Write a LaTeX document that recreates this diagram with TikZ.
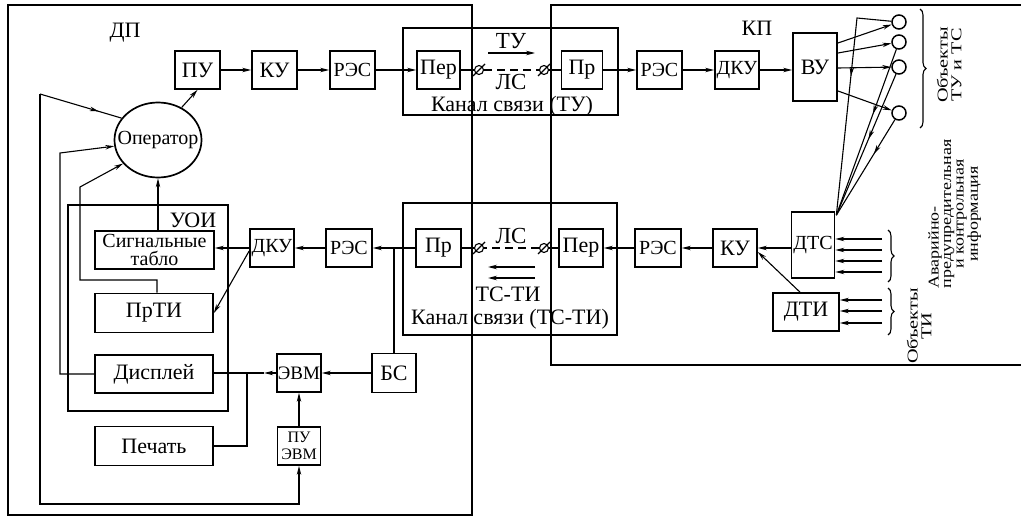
\documentclass[tikz,border=0pt]{standalone}
\usepackage{fontspec}
\setmainfont{Liberation Serif}
\usetikzlibrary{arrows.meta,shapes.geometric,decorations.markings,decorations.pathreplacing,calc}
\begin{document}
\begin{tikzpicture}[x=1pt,y=-1pt,
 every node/.style={font=\fontsize{22}{18}\selectfont},
 small/.style={font=\fontsize{20}{18}\selectfont},
 blk/.style={draw,line width=1.7pt,inner sep=0pt,minimum height=38pt,align=center},
 conn/.style={line width=1.1pt},
 arw/.style={conn,-{Stealth[length=9pt,width=4.5pt]}},
 frm/.style={line width=1.7pt},
 marr/.style={conn,postaction={decorate},decoration={markings,mark=at position #1 with {\arrow{Stealth[length=9pt,width=4.5pt]}}}},
 zero/.style={circle,draw,line width=1.1pt,inner sep=0pt,minimum size=9pt},
 obj/.style={circle,draw,line width=1.5pt,inner sep=0pt,minimum size=14pt},
 brc/.style={line width=1.1pt,decorate,decoration={brace,amplitude=6pt}},
 rot/.style={rotate=90,inner sep=0pt,font=\fontsize{15}{12.5}\selectfont}
]
\useasboundingbox (0,0) rectangle (1021,519);
\fill[white] (0,0) rectangle (1021,519);

% frames
\draw[frm] (8,5) rectangle (472,515);
\draw[frm] (1021,5) -- (551,5) -- (551,365) -- (1021,365);
\draw[frm] (403,28) rectangle (618,115);
\draw[frm] (403,203) rectangle (617,335);
\draw[frm] (68,205) rectangle (228,411);

% labels
\node at (125,33) {ДП};
\node at (757,28) {КП};
\node at (193,220) {УОИ};
\node[font=\fontsize{23}{18}\selectfont] at (511,41) {ТУ};
\node[font=\fontsize{23}{18}\selectfont] at (511,82) {ЛС};
\node at (512,106) {Канал связи (ТУ)};
\node[font=\fontsize{23}{18}\selectfont] at (511,236) {ЛС};
\node[font=\fontsize{22}{18}\selectfont,inner sep=1pt] at (508,294) {ТС-ТИ};
\node[inner sep=1pt] at (510,319) {Канал связи (ТС-ТИ)};

% top row
\node[blk,minimum width=45pt] (pu) at (197.5,70) {ПУ};
\node[blk,minimum width=45pt] (ku1) at (274.5,70) {КУ};
\node[blk,minimum width=45pt,small] (res1) at (352.5,70) {РЭС};
\node[blk,minimum width=43pt] (per1) at (438.5,70) {Пер};
\node[zero] (z1) at (479,70) {};
\node[zero] (z2) at (544,70) {};
\node[blk,minimum width=41pt] (pr1) at (582,70) {Пр};
\node[blk,minimum width=45pt,small] (res2) at (659.5,70) {РЭС};
\node[blk,minimum width=44pt,small] (dku1) at (737,70) {ДКУ};
\node[blk,minimum width=44pt,minimum height=68pt] (vu) at (815,67) {ВУ};
\node[obj] (o1) at (899,22) {};
\node[obj] (o2) at (899,42) {};
\node[obj] (o3) at (899,67) {};
\node[obj] (o4) at (899,113) {};

% bottom row
\node[blk,minimum width=43pt,minimum height=66pt,small] (dts) at (813,245) {ДТС};
\node[blk,minimum width=44pt] (ku2) at (735,248) {КУ};
\node[blk,minimum width=46pt,small] (res3) at (658,248) {РЭС};
\node[blk,minimum width=44pt] (per2) at (581,248) {Пер};
\node[zero] (z4) at (544,248) {};
\node[zero] (z3) at (479,248) {};
\node[blk,minimum width=45pt] (pr2) at (438.5,248) {Пр};
\node[blk,minimum width=46pt,small] (res4) at (349,248) {РЭС};
\node[blk,minimum width=44pt,small] (dku2) at (272,248) {ДКУ};
\node[blk,minimum width=66pt] (dti) at (806,312) {ДТИ};

% left part
\node[draw,ellipse,line width=1.7pt,minimum width=87pt,minimum height=75pt,inner sep=0pt] (op) at (158,140) {};
\node[font=\fontsize{20}{18}\selectfont] at (op) {Оператор};
\node[blk,minimum width=119pt,font=\fontsize{20}{18.5}\selectfont] (tablo) at (154.5,250) {Сигнальные\\табло};
\node[blk,minimum width=118pt,minimum height=39pt] (prti) at (154,313) {ПрТИ};
\node[blk,minimum width=118pt] (disp) at (154,374) {Дисплей};
\node[blk,minimum width=118pt,minimum height=39pt] (pech) at (154,446) {Печать};
\node[blk,minimum width=44pt,font=\fontsize{19}{18}\selectfont] (evm) at (299,373) {ЭВМ};
\node[blk,minimum width=44pt,minimum height=39pt] (bs) at (394,373) {БС};
\node[blk,minimum width=43pt,font=\fontsize{16}{17}\selectfont] (puevm) at (299,446) {ПУ\\ЭВМ};

% zero slashes
\foreach \z in {z1,z2,z3,z4}{
  \draw[conn] ($(\z.center)+(-6,6)$) -- ($(\z.center)+(6,-6)$);
}

% top chain
\draw[arw] (pu) -- (ku1);
\draw[arw] (ku1) -- (res1);
\draw[arw] (res1) -- (per1);
\draw[conn] (per1) -- (z1);
\draw[conn,dash pattern=on 8pt off 5pt] (z1) -- (z2);
\draw[conn] (z2) -- (pr1);
\draw[arw] (pr1) -- (res2);
\draw[arw] (res2) -- (dku1);
\draw[arw] (dku1.east) -- (dku1.east -| vu.west);
\coordinate (ta1) at (488,53);
\coordinate (ta2) at (535,53);
\draw[arw] (ta1) -- (ta2);

% VU outputs
\coordinate (v1) at (838,43);
\coordinate (v2) at (838,53);
\coordinate (v3) at (838,68);
\coordinate (v4) at (838,91);
\draw[arw] (v1) -- (o1);
\draw[arw] (v2) -- (o2);
\draw[arw] (v3) -- (o3);
\draw[arw] (v4) -- (o4);

% fan to DTS
\coordinate (f1) at (857,18);
\coordinate (fc) at ($(dts.north east)+(1,4)$);
\draw[marr=0.4] (o1) -- (f1) -- (fc);
\draw[marr=0.39] (o2) -- (fc);
\draw[marr=0.46] (o3) -- (fc);
\draw[marr=0.36] (o4) -- (fc);

% inputs DTS / DTI
\foreach \y [count=\i] in {239,250,261,272}{
  \coordinate (in\i) at (882,\y);
  \draw[arw] (in\i) -- (in\i -| dts.east);
}
\foreach \y [count=\i] in {300,311,323}{
  \coordinate (ti\i) at (882,\y);
  \draw[arw] (ti\i) -- (ti\i -| dti.east);
}
\draw[brc] (920,9) -- (920,128);
\draw[brc] (888,230) -- (888,282);
\draw[brc] (888,288) -- (888,335);

\node[rot] at (951,65) {\scalebox{1.35}[1]{\begin{tabular}{@{}c@{}}Объекты\\ТУ и ТС\end{tabular}}};
\node[rot] at (921,326) {\scalebox{1.35}[1]{\begin{tabular}{@{}c@{}}Объекты\\ТИ\end{tabular}}};
\node[rot] at (955,214) {\scalebox{1.2}[1]{\begin{tabular}{@{}c@{}}\rlap{Аварийно-}\phantom{предупредительная}\\предупредительная\\и контрольная\\информация\end{tabular}}};

% bottom chain
\draw[arw] (dts.west |- ku2.east) -- (ku2.east);
\draw[arw] ($(dti.north)+(-6,0)$) -- ($(ku2.east)+(0,4)$);
\draw[arw] (ku2) -- (res3);
\draw[arw] (res3) -- (per2);
\draw[conn] (per2) -- (z4);
\draw[conn,dash pattern=on 8pt off 5pt] (z4) -- (z3);
\draw[conn] (z3) -- (pr2);
\draw[arw] (pr2) -- (res4);
\coordinate (jb) at (bs.north |- pr2.west);
\draw[conn] (bs.north) -- (jb);
\draw[arw] (res4) -- (dku2);
\draw[arw] (dku2.west) -- (dku2.west -| tablo.east);
\draw[arw] ($(dku2.west)+(0,3)$) -- (prti.east);
\coordinate (tc1) at (535,267);
\coordinate (tc2) at (488,267);
\coordinate (tc3) at (535,278);
\coordinate (tc4) at (488,278);
\draw[arw] (tc1) -- (tc2);
\draw[arw] (tc3) -- (tc4);

% computer part
\draw[arw] (bs) -- (evm);
\coordinate (ea) at ($(evm.west)+(-12,0)$);
\coordinate (ja) at (247,373);
\draw[arw] (evm.west) -- (ea);
\draw[conn] (ea) -- (ja) -- (ja -| disp.east);
\draw[conn] (pech.east) -- (pech.east -| ja) -- (ja);
\draw[arw] (puevm) -- (evm);

% feedback to operator
\draw[arw] (tablo.north -| op.south) -- (op.south);
\draw[arw] (op.54) -- (pu.south);
\coordinate (c1) at (40,94);
\coordinate (c2) at (40,504);
\coordinate (c3) at (puevm.south |- c2);
\draw[arw] (c1) -- (c2) -- (c3) -- (puevm.south);
\draw[marr=0.72] (c1) -- (op.149);
\coordinate (d1) at (60,374);
\coordinate (d2) at (60,153);
\draw[arw] (disp.west) -- (d1) -- (d2) -- (op.188);
\coordinate (p1) at (157,280);
\coordinate (p2) at (80,280);
\coordinate (p3) at (80,187);
\draw[arw] (prti.north -| p1) -- (p1) -- (p2) -- (p3) -- (op.214);
\end{tikzpicture}
\end{document}
